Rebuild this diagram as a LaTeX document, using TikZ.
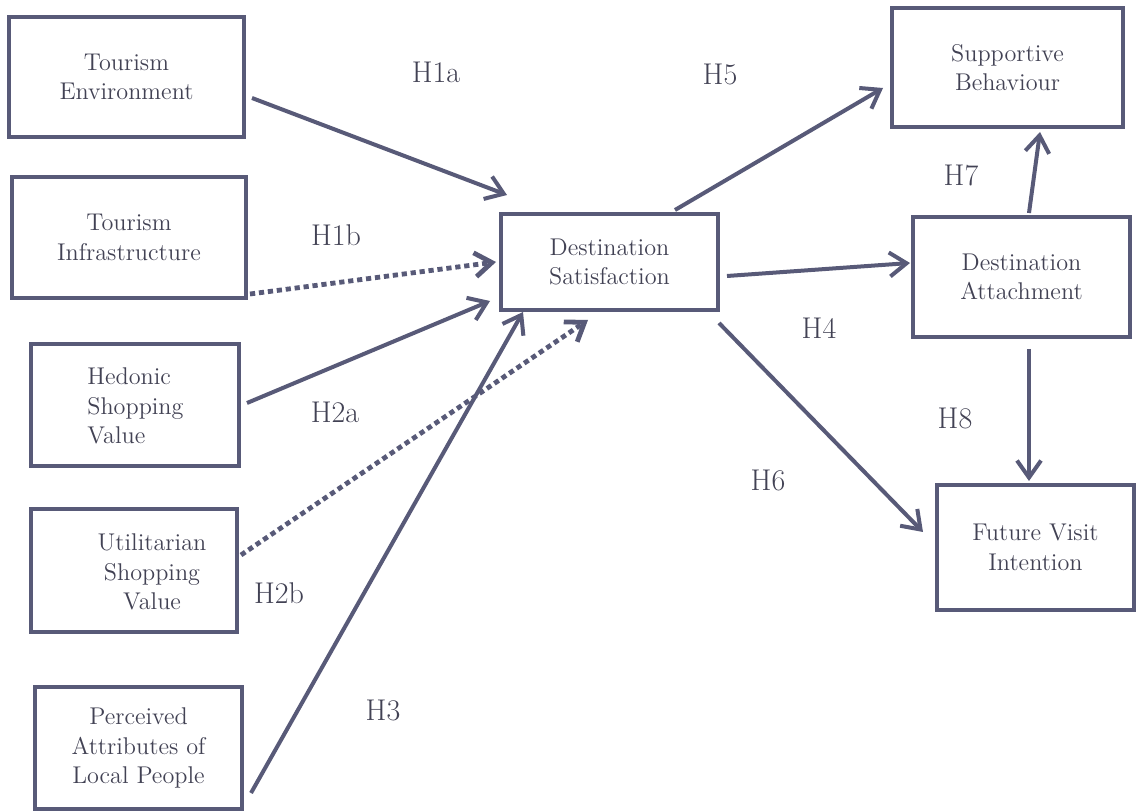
\documentclass[tikz,border=0pt]{standalone}
\usetikzlibrary{arrows.meta}
\definecolor{ln}{RGB}{88,90,120}
\definecolor{tx}{RGB}{66,66,84}
\begin{document}
\begin{tikzpicture}[x=0.5pt,y=-0.5pt,
 box/.style={draw=ln, line width=2pt, inner sep=0pt, text=tx, align=center, font=\rmfamily\fontsize{12.1}{14.8}\selectfont},
 txt/.style={text=tx, inner sep=0pt, font=\rmfamily\fontsize{12.1}{14.8}\selectfont},
 hyp/.style={text=tx, inner sep=0pt, font=\rmfamily\fontsize{15}{18}\selectfont},
 link/.style={draw=ln, line width=2pt, -{Straight Barb[length=8.5pt,width=12pt]}},
 dlink/.style={link, line width=2.4pt, dash pattern=on 2.6pt off 1.9pt}]
\useasboundingbox (0,0) rectangle (1136,812);
% boxes
\node[box, minimum width=117.5pt, minimum height=60pt] (te) at (126.5,77) {Tourism\\Environment};
\node[box, minimum width=117pt, minimum height=60.5pt] (ti) at (129,237.5) {Tourism\\Infrastructure};
\node[box, minimum width=104pt, minimum height=61pt] (hs) at (135,405) {};
\node[txt, anchor=west, align=left] (hsT) at (87,406) {Hedonic\\Shopping\\Value};
\node[box, minimum width=103pt, minimum height=61.5pt] (us) at (134,570.5) {};
\node[txt, align=center] (usT) at (152,572) {Utilitarian\\Shopping\\Value};
\node[box, minimum width=103.5pt, minimum height=61pt] (pa) at (138.5,748) {Perceived\\Attributes of\\Local People};
\node[box, minimum width=108.5pt, minimum height=48pt] (ds) at (609.5,262) {Destination\\Satisfaction};
\node[box, minimum width=115.5pt, minimum height=59.5pt] (sb) at (1007.5,67.5) {Supportive\\Behaviour};
\node[box, minimum width=108.5pt, minimum height=60pt] (da) at (1021.5,277) {Destination\\Attachment};
\node[box, minimum width=98.5pt, minimum height=62.5pt] (fv) at (1035.5,547.5) {Future Visit\\Intention};
% connectors
\draw[link] ([shift={(6,21)}]te.east) -- ([shift={(8,-17)}]ds.north west);
\draw[dlink] ([shift={(2,-6)}]ti.south east) -- ([shift={(-3,0)}]ds.west);
\draw[link] ([shift={(6,-2)}]hs.east) -- ([shift={(-9,-11)}]ds.south west);
\draw[dlink] ([shift={(2,-15.5)}]us.east) -- ([shift={(-21.5,8)}]ds.south);
\draw[link] ([shift={(7,45)}]pa.east) -- ([shift={(24,0)}]ds.south west);
\draw[link] ([shift={(7,14)}]ds.east) -- ([shift={(-1,-14)}]da.west);
\draw[link] ([shift={(65.5,-2)}]ds.north) -- ([shift={(-7,20.5)}]sb.west);
\draw[link] ([shift={(-1,11)}]ds.south east) -- ([shift={(-12,-15.5)}]fv.west);
\draw[link] ([shift={(7.5,-2)}]da.north) -- ([shift={(32.5,3)}]sb.south);
\draw[link] ([shift={(7.5,10)}]da.south) -- ([shift={(-6.5,-2)}]fv.north);
% hypothesis labels
\node[hyp] (h1a) at (436,72) {H1a};
\node[hyp] (h1b) at (336,235) {H1b};
\node[hyp] (h2a) at (335,412) {H2a};
\node[hyp] (h2b) at (279,593) {H2b};
\node[hyp] (h3) at (383,710) {H3};
\node[hyp] (h4) at (819,328) {H4};
\node[hyp] (h5) at (720,75) {H5};
\node[hyp] (h6) at (768,480) {H6};
\node[hyp] (h7) at (961,175) {H7};
\node[hyp] (h8) at (955,418) {H8};
\end{tikzpicture}
\end{document}
